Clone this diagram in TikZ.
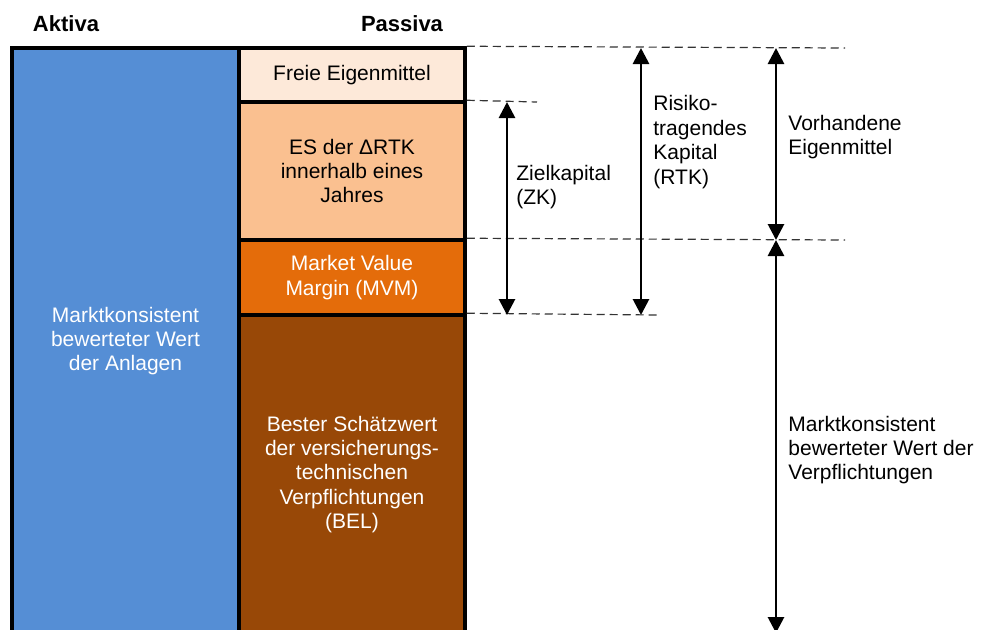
\documentclass[tikz,border=0pt]{standalone}
\usepackage{fontspec}
\setmainfont{Liberation Sans}
\usetikzlibrary{arrows.meta}

\definecolor{aktivblue}{HTML}{558ED5}
\definecolor{freicol}{HTML}{FDE9D9}
\definecolor{escol}{HTML}{FAC090}
\definecolor{mvmcol}{HTML}{E46C0A}
\definecolor{belcol}{HTML}{984807}
\definecolor{guidegray}{HTML}{333333}

\begin{document}
\begin{tikzpicture}[x=0.5pt,y=-0.5pt,
  every node/.style={font=\fontsize{10.5pt}{12.2pt}\selectfont},
  heading/.style={font=\fontsize{11pt}{12.2pt}\selectfont\bfseries},
  block/.style={draw=black, line width=1.75pt, align=center, inner sep=0pt, minimum width=113pt},
  sidelabel/.style={align=left, inner sep=0pt, anchor=west},
  guide/.style={draw=guidegray, line width=0.6pt, dash pattern=on 4pt off 2.5pt},
  measure/.style={line width=1.4pt, {Triangle[width=8pt,length=8pt]}-{Triangle[width=8pt,length=8pt]}}
]
\useasboundingbox (0,0) rectangle (982,629);
\clip (0,0) rectangle (982,629);

% column headings
\node[heading] (aktiva) at (66,24) {Aktiva};
\node[heading] (passiva) at (402,24) {Passiva};

% assets column
\node[block, fill=aktivblue, text=white, minimum width=113.5pt, minimum height=293pt] (assets) at (125.5,341)
  {Marktkonsistent\\bewerteter Wert\\der Anlagen};

% liabilities column
\node[block, fill=freicol, minimum height=27pt] (fe) at (352,75) {Freie Eigenmittel};
\node[block, fill=escol, minimum height=69pt] (es) at (352,171) {ES der ΔRTK\\innerhalb eines\\Jahres};
\node[block, fill=mvmcol, text=white, minimum height=37.5pt] (mvm) at (352,277.5) {Market Value\\Margin (MVM)};
\node[block, fill=belcol, text=white, minimum height=159.5pt] (bel) at (352,474.5)
  {Bester Schätzwert\\der versicherungs-\\technischen\\Verpflichtungen\\(BEL)};

% dashed guide lines
\coordinate (g1) at (845,48);
\coordinate (g2) at (537,102);
\coordinate (g3) at (845,240);
\coordinate (g4) at (657,315);
\draw[guide] (fe.north east) -- (g1);
\draw[guide] (es.north east) -- (g2);
\draw[guide] (mvm.north east) -- (g3);
\draw[guide] (bel.north east) -- (g4);

% dimension arrows
\coordinate (zkT) at (507,102);
\coordinate (zkB) at (507,315);
\coordinate (rtkT) at (641,48);
\coordinate (rtkB) at (641,315);
\coordinate (veT) at (776,48);
\coordinate (veB) at (776,240);
\coordinate (mwT) at (776,240);
\coordinate (mwB) at (776,633);
\draw[measure] (zkT) -- (zkB);
\draw[measure] (rtkT) -- (rtkB);
\draw[measure] (veT) -- (veB);
\draw[measure] (mwT) -- (mwB);

% arrow labels
\node[sidelabel] (zk) at (516,187) {Zielkapital\\(ZK)};
\node[sidelabel] (rtk) at (653,142) {Risiko-\\tragendes\\Kapital\\(RTK)};
\node[sidelabel] (ve) at (788,137) {Vorhandene\\Eigenmittel};
\node[sidelabel] (mw) at (788,450) {Marktkonsistent\\bewerteter Wert der\\Verpflichtungen};
\end{tikzpicture}
\end{document}
